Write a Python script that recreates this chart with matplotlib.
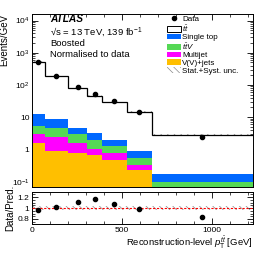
import numpy as np
import matplotlib
matplotlib.use("Agg")
import matplotlib.pyplot as plt
from matplotlib.patches import Patch
from matplotlib.lines import Line2D
from matplotlib.ticker import FixedLocator, FuncFormatter, MultipleLocator, LogLocator, NullFormatter

plt.rcParams['font.family'] = ['Liberation Sans', 'DejaVu Sans']
plt.rcParams['mathtext.fontset'] = 'custom'
plt.rcParams['mathtext.rm'] = 'Liberation Sans'
plt.rcParams['mathtext.it'] = 'Liberation Sans:italic'
plt.rcParams['mathtext.bf'] = 'Liberation Sans:bold'
plt.rcParams['hatch.linewidth'] = 0.5

# ---- data ----
bin_edges = [0, 75, 200, 310, 390, 530, 667, 1228]
vvjets = [1.63, 0.92, 0.76, 0.66, 0.47, 0.23, 0.035]
multijet = [1.33, 1.58, 0.80, 0.38, 0.29, 0.10, 0.02]
ttv = [2.41, 2.15, 1.54, 0.93, 0.52, 0.23, 0.045]
singletop = [7.33, 4.02, 1.65, 1.21, 0.69, 0.36, 0.073]
ttbar = [520.3, 181.3, 75.25, 43.3, 27.5, 14.0, 2.68]
data = [511, 194, 89.5, 54, 31.8, 14.6, 2.4]
rel_unc = [0.03, 0.03, 0.03, 0.03, 0.03, 0.03, 0.03]

edges = np.array(bin_edges, dtype=float)
centers = 0.5 * (edges[:-1] + edges[1:])
widths = np.diff(edges)

components = [
    (vvjets, '#FFBF00', 'V(V)+jets'),
    (multijet, '#FF00FF', 'Multijet'),
    (ttv, '#55D855', r'$t\bar{t}V$'),
    (singletop, '#0068FF', 'Single top'),
]

fig = plt.figure(figsize=(2.66, 2.58), dpi=100)
ax = fig.add_axes([0.119, 0.275, 0.831, 0.671])
rax = fig.add_axes([0.119, 0.130, 0.831, 0.127])

bottom = np.zeros(len(centers))
for vals, col, lab in components:
    v = np.array(vals)
    ax.bar(edges[:-1], v, width=widths, bottom=bottom, align='edge',
           color=col, edgecolor='none', linewidth=0, zorder=2)
    bottom = bottom + v
ttb = np.array(ttbar)
ax.bar(edges[:-1], ttb, width=widths, bottom=bottom, align='edge',
       color='white', edgecolor='none', linewidth=0, zorder=2)
total = bottom + ttb

unc = total * np.array(rel_unc)
ax.bar(edges[:-1], 2 * unc, width=widths, bottom=total - unc, align='edge',
       color='none', edgecolor='#888888', hatch='\\\\\\\\\\', linewidth=0, zorder=3)
ax.stairs(total, edges, color='black', linewidth=0.9, zorder=4, baseline=None)

d = np.array(data)
ax.plot(centers, d, 'o', color='black', markersize=3, zorder=5)

ax.set_yscale('log')
ax.set_xlim(edges[0], edges[-1])
ax.set_ylim(0.068, 1.6e4)

def logfmt(v, pos):
    e = int(round(np.log10(v)))
    if e == 0:
        return '1'
    if e == 1:
        return '10'
    return r'$10^{%d}$' % e

ax.yaxis.set_major_locator(LogLocator(base=10, numticks=20))
ax.yaxis.set_major_formatter(FuncFormatter(logfmt))
ax.yaxis.set_minor_locator(LogLocator(base=10, subs=np.arange(2, 10), numticks=20))
ax.yaxis.set_minor_formatter(NullFormatter())
for a in (ax, rax):
    a.xaxis.set_major_locator(MultipleLocator(500))
    a.xaxis.set_minor_locator(MultipleLocator(100))
    a.tick_params(which='both', direction='in', top=True, right=True, labelsize=6, pad=1.5)
    a.tick_params(which='major', length=4, width=0.6)
    a.tick_params(which='minor', length=2, width=0.5)
    for s in a.spines.values():
        s.set_linewidth(0.7)
ax.tick_params(labelbottom=False)

ax.set_ylabel('Events/GeV', fontsize=7, loc='top', labelpad=1.5)

# texts
ax.text(0.083, (187 - 22.5) / 173, 'ATLAS', transform=ax.transAxes, fontsize=7.3,
        fontweight='bold', fontstyle='italic', va='baseline')
ax.text(0.083, (187 - 35.5) / 173, '\u221as = 13 TeV, 139 fb$^{-1}$', transform=ax.transAxes,
        fontsize=6.8, va='baseline')
ax.text(0.083, (187 - 46.5) / 173, 'Boosted', transform=ax.transAxes, fontsize=6.8, va='baseline')
ax.text(0.083, (187 - 57) / 173, 'Normalised to data', transform=ax.transAxes, fontsize=6.8,
        va='baseline')

handles = [
    Line2D([], [], marker='o', color='black', linestyle='none', markersize=3),
    Patch(facecolor='white', edgecolor='black', linewidth=0.7),
    Patch(facecolor='#0068FF', edgecolor='none'),
    Patch(facecolor='#55D855', edgecolor='none'),
    Patch(facecolor='#FF00FF', edgecolor='none'),
    Patch(facecolor='#FFBF00', edgecolor='none'),
    Patch(facecolor='none', edgecolor='#888888', hatch='\\\\\\\\\\', linewidth=0),
]
labels = ['Data', r'$t\bar{t}$', 'Single top', r'$t\bar{t}V$', 'Multijet', 'V(V)+jets',
          'Stat.+Syst. unc.']
ax.legend(handles, labels, loc='upper left', bbox_to_anchor=(0.6, 1.005), frameon=False,
          fontsize=5.8, handlelength=1.8, handleheight=0.7, handletextpad=0.15,
          labelspacing=0.0, borderpad=0.2, borderaxespad=0.1)

# ratio
ratio = d / total
rax.bar(edges[:-1], 2 * np.array(rel_unc), width=widths, bottom=1 - np.array(rel_unc),
        align='edge', color='none', edgecolor='#888888', hatch='\\\\\\\\\\', linewidth=0, zorder=2)
rax.axhline(1.0, color='red', linestyle='--', linewidth=0.8, dashes=(2, 1.5), zorder=3)
rax.plot(centers, ratio, 'o', color='black', markersize=3, zorder=5)
rax.set_xlim(edges[0], edges[-1])
rax.set_ylim(0.7, 1.3)
rax.yaxis.set_major_locator(FixedLocator([0.8, 1.0, 1.2]))
rax.yaxis.set_major_formatter(FuncFormatter(lambda v, p: '%g' % v))
rax.yaxis.set_minor_locator(MultipleLocator(0.05))
rax.set_ylabel('Data/Pred.', fontsize=7, labelpad=1.5)
rax.set_xlabel(r'Reconstruction-level $p_{\mathrm{T}}^{t\bar{t}}$ [GeV]', fontsize=6.8,
               loc='right', labelpad=1)

fig.savefig('out.png', dpi=100)
